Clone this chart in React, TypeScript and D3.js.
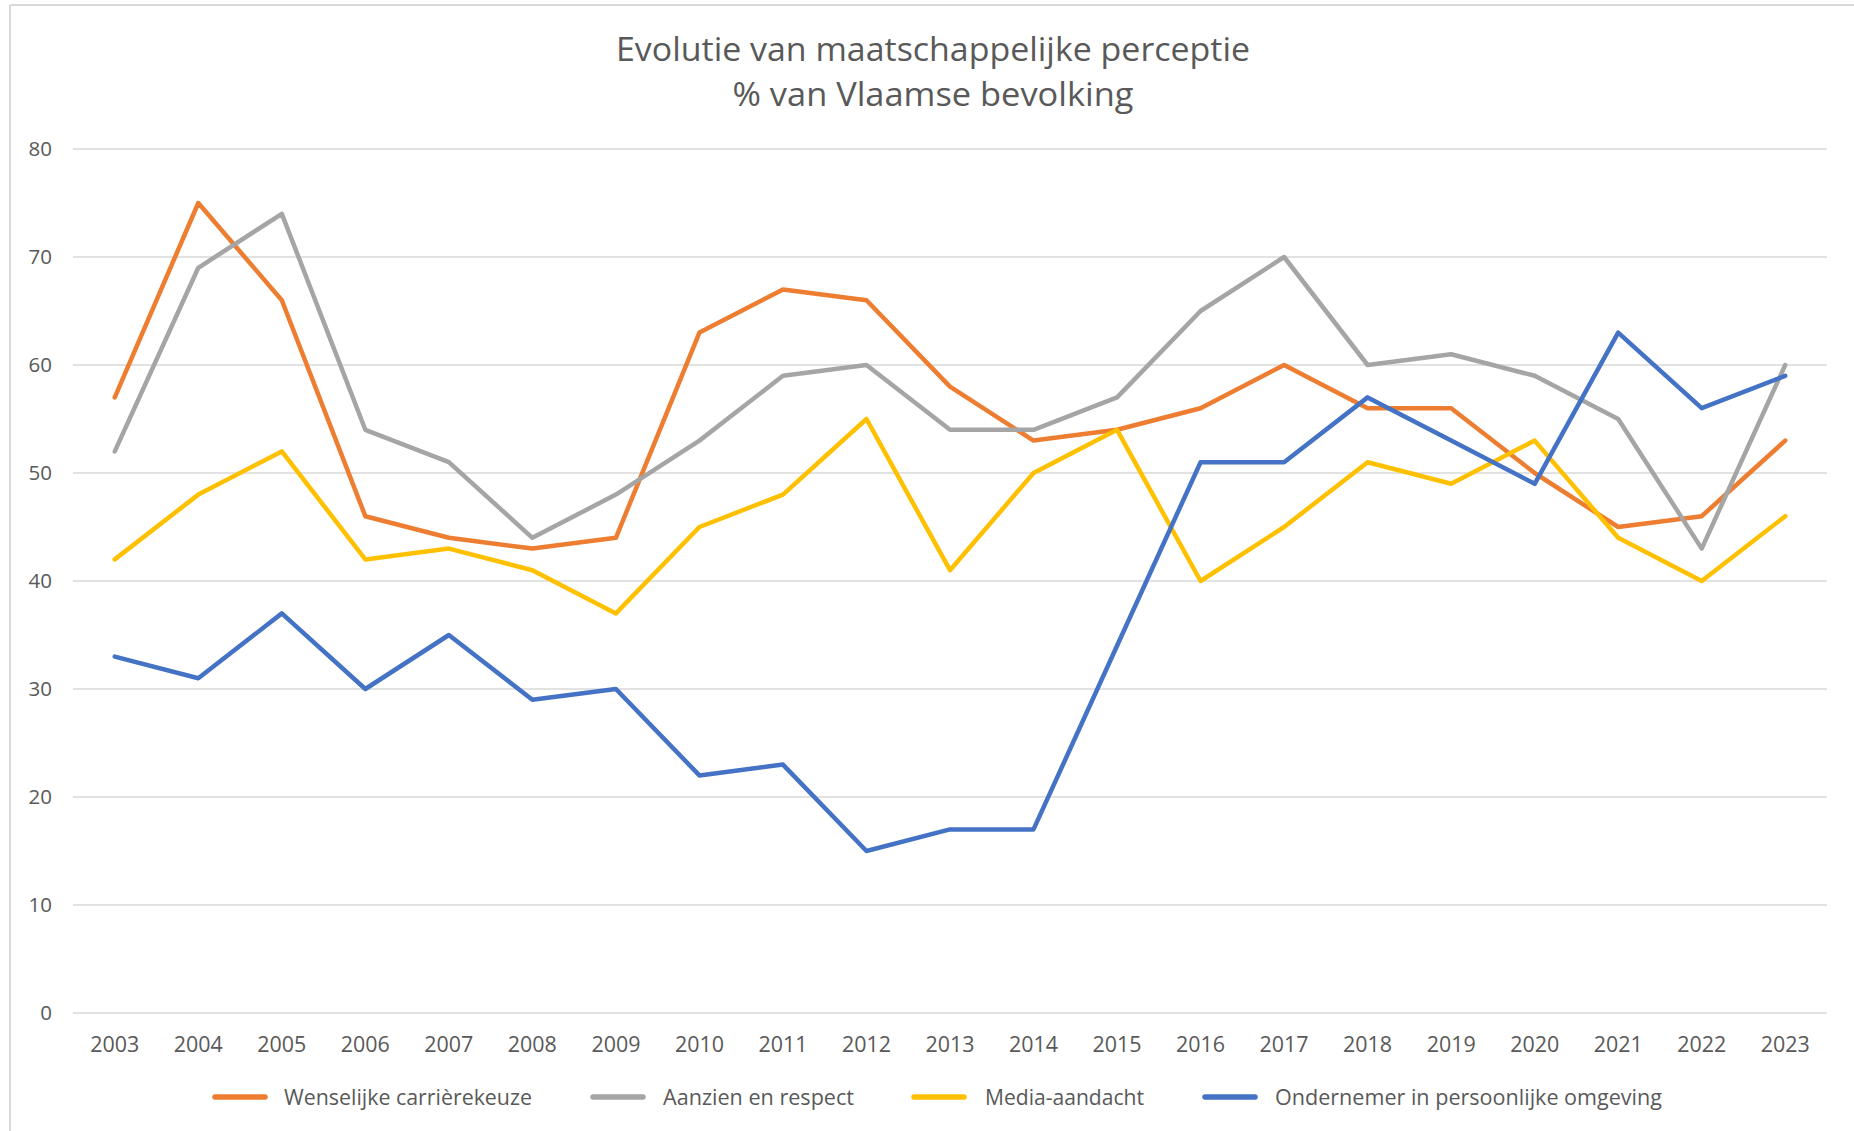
import React from "react";
import * as d3 from "d3";

const years = ["2003","2004","2005","2006","2007","2008","2009","2010","2011","2012","2013","2014","2015","2016","2017","2018","2019","2020","2021","2022","2023"];
const wenselijke = [57,75,66,46,44,43,44,63,67,66,58,53,54,56,60,56,56,50,45,46,53];
const aanzien = [52,69,74,54,51,44,48,53,59,60,54,54,57,65,70,60,61,59,55,43,60];
const media = [42,48,52,42,43,41,37,45,48,55,41,50,54,40,45,51,49,53,44,40,46];
const ondernemer = [33,31,37,30,35,29,30,22,23,15,17,17,34,51,51,57,53,49,63,56,59];
const seriesNames = ["Wenselijke carrièrekeuze","Aanzien en respect","Media-aandacht","Ondernemer in persoonlijke omgeving"];
const seriesColors = ["#ED7D31","#A5A5A5","#FFC000","#4472C4"];
const yTicks = [0,10,20,30,40,50,60,70,80];
const titleLines = ["Evolutie van maatschappelijke perceptie","% van Vlaamse bevolking"];

const W = 1854, H = 1131;
const plot = { left: 73, right: 1827, top: 149, bottom: 1013 };
const titleWidths = [634, 401];
const titleBaselines = [61, 106];
const legendSwatchX = [212, 590, 911, 1202];
const legendTextX = [284, 663, 985, 1275];
const legendTextW = [248, 191, 159, 387];
const FONT = "'Open Sans', 'Noto Sans', sans-serif";
const TEXT = "#595959";

export default function App() {
  const x = d3.scalePoint<string>().domain(years).range([plot.left, plot.right]).padding(0.5);
  const y = d3.scaleLinear().domain([0, 80]).range([plot.bottom, plot.top]);
  const allSeries = [wenselijke, aanzien, media, ondernemer];
  const line = d3.line<number>()
    .x((_, i) => x(years[i]) as number)
    .y((d) => y(d));

  return (
    <svg width={W} height={H} style={{ position: "absolute", left: 0, top: 0, background: "#fff" }} fontFamily={FONT}>
      <rect x={0} y={0} width={W} height={H} fill="#fff" />
      <line x1={10} y1={5} x2={W} y2={5} stroke="#D9D9D9" strokeWidth={2} />
      <line x1={10} y1={5} x2={10} y2={H} stroke="#D9D9D9" strokeWidth={2} />
      {titleLines.map((t, i) => (
        <text key={t} x={933} y={titleBaselines[i]} textAnchor="middle" fontSize={32} fill={TEXT}
          textLength={titleWidths[i]} lengthAdjust="spacingAndGlyphs">{t}</text>
      ))}
      {yTicks.map((v) => (
        <g key={v}>
          <line x1={plot.left} x2={plot.right} y1={y(v)} y2={y(v)} stroke="#D9D9D9" strokeWidth={1.6} />
          <text x={52} y={y(v)} dy="0.36em" textAnchor="end" fontSize={20.5} fill={TEXT}>{v}</text>
        </g>
      ))}
      {years.map((yr) => (
        <text key={yr} x={x(yr)} y={1052} textAnchor="middle" fontSize={21} fill={TEXT}
          textLength={49} lengthAdjust="spacingAndGlyphs">{yr}</text>
      ))}
      {allSeries.map((s, i) => (
        <path key={i} d={line(s) || ""} fill="none" stroke={seriesColors[i]} strokeWidth={4.5} strokeLinejoin="round" strokeLinecap="round" />
      ))}
      {seriesNames.map((n, i) => (
        <g key={n}>
          <line x1={legendSwatchX[i] + 3} x2={legendSwatchX[i] + 53} y1={1097} y2={1097} stroke={seriesColors[i]} strokeWidth={5.5} strokeLinecap="round" />
          <text x={legendTextX[i]} y={1097} dy="0.36em" fontSize={21.5} fill={TEXT}
            textLength={legendTextW[i]} lengthAdjust="spacingAndGlyphs">{n}</text>
        </g>
      ))}
    </svg>
  );
}
